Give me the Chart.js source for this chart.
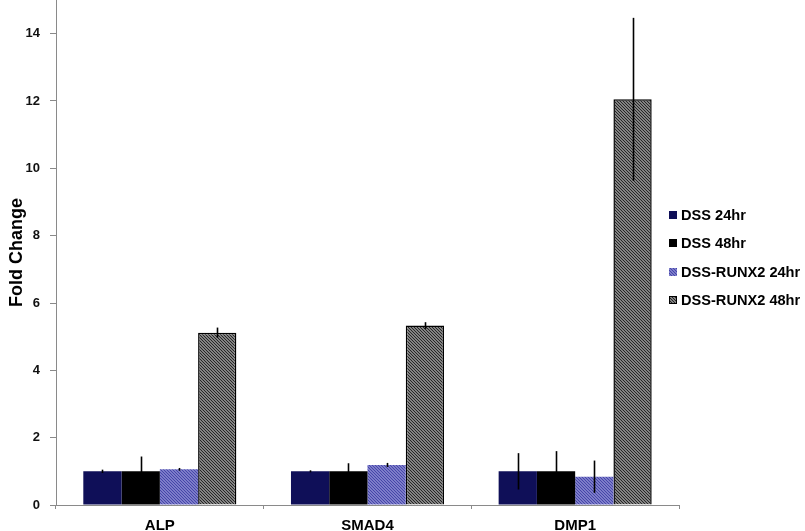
<!DOCTYPE html>
<html>
<head>
<meta charset="utf-8">
<script src="https://cdn.jsdelivr.net/npm/chart.js@4/dist/chart.umd.min.js"></script>
<style>
  html, body { margin: 0; padding: 0; background: #fff; }
  #wrap { width: 805px; height: 531px; position: relative; }
</style>
</head>
<body>
<div id="wrap"><canvas id="chart"></canvas></div>
<script>
// categories and series values
const categories = ['ALP', 'SMAD4', 'DMP1'];
const seriesNames = ['DSS 24hr', 'DSS 48hr', 'DSS-RUNX2 24hr', 'DSS-RUNX2 48hr'];

const dss24 = [1.0, 1.0, 1.0];
const dss24Err = [0.05, 0.03, 0.54];
const dss48 = [1.0, 1.0, 1.0];
const dss48Err = [0.44, 0.24, 0.6];
const runx24 = [1.06, 1.19, 0.84];
const runx24Err = [0.04, 0.06, 0.48];
const runx48 = [5.12, 5.33, 12.05];
const runx48Err = [0.15, 0.1, 2.42];

const yTicks = [0, 2, 4, 6, 8, 10, 12, 14];

// hatch pattern: diagonal stripes going down-right
function makeHatch(bg, fg, size) {
    const c = document.createElement('canvas');
    c.width = size; c.height = size;
    const g = c.getContext('2d');
    g.fillStyle = bg;
    g.fillRect(0, 0, size, size);
    g.strokeStyle = fg;
    g.lineWidth = 1.4;
    g.beginPath();
    g.moveTo(-1, -1); g.lineTo(size + 1, size + 1);
    g.moveTo(-1, size - 1); g.lineTo(1, size + 1);
    g.moveTo(size - 1, -1); g.lineTo(size + 1, 1);
    g.stroke();
    return g.createPattern(c, 'repeat');
}

const ctx = document.getElementById('chart');
const blueHatch = makeHatch('#b4b4ea', '#4545a8', 3);
const grayHatch = makeHatch('#dcdcdc', '#262626', 3);

const seriesFill = ['#0f0f58', '#000000', blueHatch, grayHatch];
const errors = [dss24Err, dss48Err, runx24Err, runx48Err];

// error bars drawn over the bars
const errorBars = {
    id: 'errorBars',
    afterDatasetsDraw(chart) {
        const c = chart.ctx;
        const y = chart.scales.y;
        c.save();
        c.strokeStyle = '#000';
        c.lineWidth = 1.6;
        chart.data.datasets.forEach((ds, di) => {
            const meta = chart.getDatasetMeta(di);
            meta.data.forEach((bar, i) => {
                const v = ds.data[i], e = errors[di][i];
                c.beginPath();
                c.moveTo(Math.round(bar.x) + 0.5, y.getPixelForValue(v + e));
                c.lineTo(Math.round(bar.x) + 0.5, y.getPixelForValue(v - e));
                c.stroke();
            });
        });
        c.restore();
    }
};

// legend on the right, drawn next to the plot
const sideLegend = {
    id: 'sideLegend',
    afterDraw(chart) {
        const c = chart.ctx;
        const rows = [215, 243, 272, 300];
        c.save();
        c.font = 'bold 14.6px "Liberation Sans", Arial, sans-serif';
        c.textBaseline = 'middle';
        seriesNames.forEach((name, i) => {
            c.fillStyle = seriesFill[i];
            c.fillRect(669, rows[i] - 4, 8, 8);
            if (i === 3) {
                c.strokeStyle = '#000';
                c.lineWidth = 1;
                c.strokeRect(669.5, rows[i] - 3.5, 7, 7);
            }
            c.fillStyle = '#000';
            c.fillText(name, 681, rows[i] + 1);
        });
        c.restore();
    }
};

new Chart(ctx, {
    type: 'bar',
    data: {
        labels: categories,
        datasets: [
            { label: seriesNames[0], data: dss24, backgroundColor: seriesFill[0], borderWidth: 0 },
            { label: seriesNames[1], data: dss48, backgroundColor: seriesFill[1], borderWidth: 0 },
            { label: seriesNames[2], data: runx24, backgroundColor: seriesFill[2], borderWidth: 0 },
            { label: seriesNames[3], data: runx48, backgroundColor: seriesFill[3], borderColor: '#000', borderWidth: 1.5 }
        ]
    },
    options: {
        responsive: true,
        maintainAspectRatio: false,
        animation: false,
        layout: { padding: { left: 0, right: 126, top: 0, bottom: 0 } },
        categoryPercentage: 0.737,
        barPercentage: 1.0,
        plugins: {
            legend: { display: false },
            tooltip: { enabled: false }
        },
        scales: {
            x: {
                grid: { display: true, drawOnChartArea: false, tickLength: 4, color: '#8a8a8a', offset: true },
                border: { color: '#8a8a8a', width: 1 },
                ticks: {
                    color: '#000',
                    padding: 8,
                    font: { family: '"Liberation Sans", Arial, sans-serif', size: 15, weight: 'bold' }
                },
                afterFit(axis) { axis.height = 26; }
            },
            y: {
                min: 0,
                max: 15,
                afterBuildTicks(axis) { axis.ticks = yTicks.map(v => ({ value: v })); },
                grid: { display: true, drawOnChartArea: false, tickLength: 6, color: '#8a8a8a' },
                border: { color: '#8a8a8a', width: 1 },
                ticks: {
                    color: '#111',
                    padding: 10,
                    font: { family: '"Liberation Sans", Arial, sans-serif', size: 13, weight: 'bold' }
                },
                title: {
                    display: true,
                    text: 'Fold Change',
                    color: '#000',
                    padding: { top: 6, bottom: 0 },
                    font: { family: '"Liberation Sans", Arial, sans-serif', size: 18, weight: 'bold' }
                },
                afterFit(axis) {
                    axis.width = 56;
                    axis.paddingTop = 0;
                    axis.paddingBottom = 0;
                }
            }
        }
    },
    plugins: [errorBars, sideLegend]
});
</script>
</body>
</html>
